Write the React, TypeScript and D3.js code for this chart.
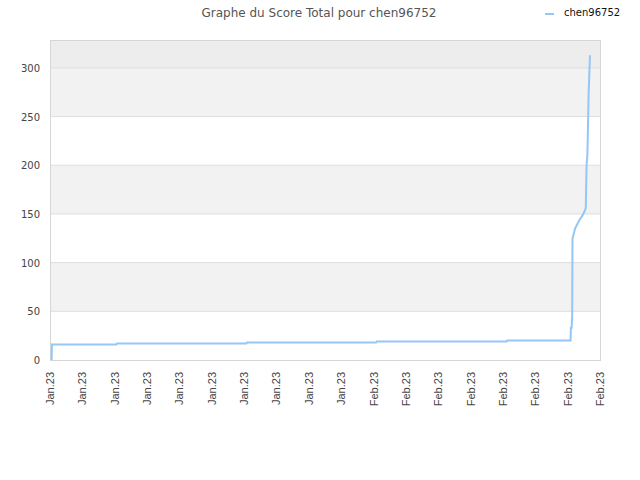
import { useMemo } from "react";
import { scaleLinear, line, max, range } from "d3";

const title = "Graphe du Score Total pour chen96752";
const seriesName = "chen96752";

const xLabels = [
  "Jan.23", "Jan.23", "Jan.23", "Jan.23", "Jan.23", "Jan.23", "Jan.23", "Jan.23", "Jan.23", "Jan.23",
  "Feb.23", "Feb.23", "Feb.23", "Feb.23", "Feb.23", "Feb.23", "Feb.23", "Feb.23",
];

// position of each point, in units of x-label slots
const positions = [
  0.05, 0.06, 2.05, 2.07, 6.07, 6.09, 10.08, 10.1, 14.11, 14.13,
  16.09, 16.1, 16.125, 16.13, 16.14, 16.15, 16.23, 16.29, 16.35, 16.43,
  16.5, 16.56, 16.585, 16.61, 16.65, 16.69,
];
const scores = [
  0, 16, 16, 17, 17, 18, 18, 19, 19, 20,
  20, 33, 33, 41, 41, 125, 135, 139, 143, 147,
  151, 156, 200, 210, 275, 313,
];

const yTicks = [0, 50, 100, 150, 200, 250, 300];

const W = 640;
const H = 480;
const mLeft = 50;
const mRight = 40;
const mTop = 40;
const mBottom = 120;

export default function App() {
  const x = scaleLinear([0, xLabels.length - 1], [mLeft, W - mRight]);
  const yMax = (max(scores) as number) * 1.05;
  const y = scaleLinear([0, yMax], [H - mBottom, mTop]);

  const path = useMemo(
    () =>
      line<number>()
        .x((_, i) => x(positions[i]))
        .y((d) => y(d))(scores),
    [x, y]
  );

  const bandEdges = [...yTicks, yMax];

  return (
    <div style={{ position: "absolute", left: 0, top: 0 }}>
      <svg width={W} height={H} style={{ display: "block", background: "#fff" }}>
        {/* background bands */}
        {bandEdges.slice(0, -1).map((v, i) => (
          <rect
            key={"b" + i}
            x={mLeft}
            width={W - mRight - mLeft}
            y={y(bandEdges[i + 1])}
            height={y(v) - y(bandEdges[i + 1])}
            fill={i === bandEdges.length - 2 ? "#ededed" : i % 2 === 1 ? "#f2f2f2" : "#ffffff"}
          />
        ))}
        {yTicks.slice(1).map((t) => (
          <line key={"g" + t} x1={mLeft} x2={W - mRight} y1={y(t)} y2={y(t)} stroke="#dedede" />
        ))}
        <rect
          x={mLeft + 0.5}
          y={mTop + 0.5}
          width={W - mRight - mLeft}
          height={H - mBottom - mTop}
          fill="none"
          stroke="#d6d6d6"
        />

        {/* y labels */}
        {yTicks.map((t) => (
          <text
            key={"y" + t}
            x={mLeft - 10}
            y={y(t) + 4}
            textAnchor="end"
            fontFamily="DejaVu Sans"
            fontSize={10}
            fill="#444"
          >
            {t}
          </text>
        ))}

        {/* x labels */}
        {range(xLabels.length).map((i) => (
          <text
            key={"x" + i}
            transform={`translate(${x(i) + 4},${H - mBottom + 12}) rotate(-90)`}
            textAnchor="end"
            fontFamily="Liberation Sans"
            fontSize={11}
            fill="#444"
          >
            {xLabels[i]}
          </text>
        ))}

        {/* series */}
        <path d={path ?? ""} fill="none" stroke="#94c6f6" strokeWidth={2} />

        {/* title and legend */}
        <text x={319} y={16.5} textAnchor="middle" fontFamily="DejaVu Sans" fontSize={12} fill="#555">
          {title}
        </text>
        <line x1={545} x2={554} y1={14} y2={14} stroke="#94c6f6" strokeWidth={2} />
        <text x={564} y={16} fontFamily="DejaVu Sans" fontSize={10} fill="#111">
          {seriesName}
        </text>
      </svg>
    </div>
  );
}
